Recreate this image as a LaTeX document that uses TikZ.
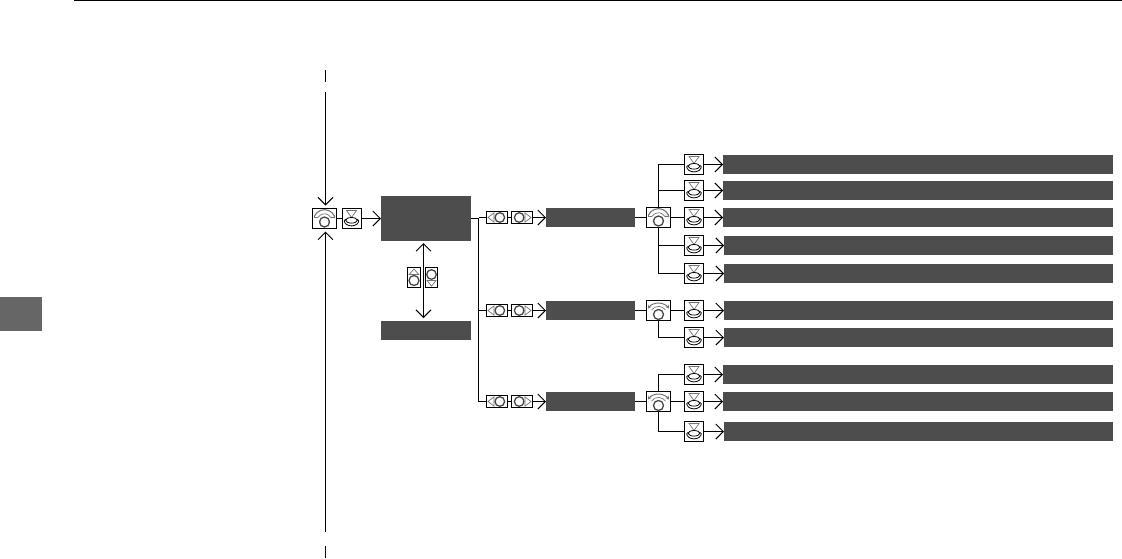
\documentclass[tikz,border=0pt]{standalone}
\usetikzlibrary{arrows.meta}
\definecolor{barfill}{HTML}{4D4D4D}
\definecolor{tabfill}{HTML}{666666}
\definecolor{glyph}{HTML}{757575}
\definecolor{ring}{HTML}{484848}
\tikzset{
  x=1pt,y=-1pt,
  conn/.style={line width=1pt,draw=black},
  arr/.style={conn,-{Straight Barb[length=7.5pt,width=15pt,line width=1pt]}},
  arrboth/.style={conn,{Straight Barb[length=7.5pt,width=15pt,line width=1pt]}-{Straight Barb[length=7.5pt,width=15pt,line width=1pt]}},
  bar/.style={fill=barfill,draw=none,inner sep=0pt,minimum width=#1,minimum height=19pt,anchor=west,outer sep=0pt},
  bar/.default=390pt,
  iconbox/.style={draw=black,line width=1pt,fill=white,inner sep=0pt,outer sep=0pt},
  pushglyph/.style={draw=glyph,line width=.7pt},
  ringglyph/.style={draw=ring,line width=1.3pt},
  press/.pic={
    \node[iconbox,minimum width=19pt,minimum height=20pt] (-box) at (0,0) {};
    \draw[pushglyph] (-5,-8) -- (5,-8) -- (0,-1) -- cycle;
    \draw[draw=black,line width=.8pt] (0,1.8) ellipse (5.8pt and 2.8pt);
    \draw[draw=black,line width=.8pt] (-7.3,2) arc[start angle=180,end angle=360,x radius=7.3pt,y radius=5.4pt];
    \draw[draw=black,line width=.7pt] (-7.3,2) -- (-5.4,.6);
    \draw[draw=black,line width=.7pt] (7.3,2) -- (5.4,.6);
  },
  rotsmall/.pic={
    \node[iconbox,minimum width=24pt,minimum height=20pt] (-box) at (0,0) {};
    \draw[ringglyph] (0,3.5) circle (5pt);
    \draw[pushglyph,line width=1.1pt] (-10,-2.5) arc[start angle=155,end angle=25,radius=11pt] -- (10,-1) -- (6.5,-1);
    \draw[pushglyph,line width=1.1pt] (-10,-2.5) -- (-10,-1) -- (-6.5,-1);
    \draw[pushglyph] (-6.5,-1) arc[start angle=150,end angle=30,radius=7.5pt];
  },
  rotwide/.pic={
    \node[iconbox,minimum width=24pt,minimum height=20pt] (-box) at (0,0) {};
    \draw[ringglyph] (0,4) circle (5pt);
    \draw[pushglyph,line width=1pt,{Stealth[length=3.5pt,width=4pt]}-{Stealth[length=3.5pt,width=4pt]}] (-10.5,-2) arc[start angle=145,end angle=35,radius=12.8pt];
    \draw[pushglyph] (-7,-.5) arc[start angle=145,end angle=35,radius=8.5pt];
  },
  leftbtn/.pic={
    \node[iconbox,minimum width=21pt,minimum height=12pt] (-box) at (0,0) {};
    \draw[pushglyph] (-3,-4.6) -- (-3,4.6) -- (-9,0) -- cycle;
    \draw[ringglyph] (2.8,0) circle (4.8pt);
  },
  rightbtn/.pic={
    \node[iconbox,minimum width=21pt,minimum height=12pt] (-box) at (0,0) {};
    \draw[pushglyph] (3,-4.6) -- (3,4.6) -- (9,0) -- cycle;
    \draw[ringglyph] (-2.8,0) circle (4.8pt);
  },
  upbtn/.pic={
    \node[iconbox,minimum width=13pt,minimum height=20pt] (-box) at (0,0) {};
    \draw[pushglyph] (-4.8,-3) -- (4.8,-3) -- (0,-8.5) -- cycle;
    \draw[ringglyph] (0,3) circle (5pt);
  },
  downbtn/.pic={
    \node[iconbox,minimum width=12pt,minimum height=20pt] (-box) at (0,0) {};
    \draw[pushglyph] (-4.5,3) -- (4.5,3) -- (0,8.5) -- cycle;
    \draw[ringglyph] (0,-3) circle (4.8pt);
  },
}
\begin{document}
\begin{tikzpicture}
\useasboundingbox (0,0) rectangle (1122,558);
% page furniture
\coordinate (ruleL) at (74,0.5);
\coordinate (ruleR) at (1122,0.5);
\draw[conn,line width=1.2pt] (ruleL) -- (ruleR);
\fill[tabfill] (0,297) rectangle (42,331);
% entry
\pic (rotA) at (324.5,218.5) {rotsmall};
\pic (pressA) at (351.5,218.5) {press};
\coordinate (t1) at (325.5,70); \coordinate (t2) at (325.5,82);
\coordinate (t3) at (325.5,92); \coordinate (b1) at (325.5,532);
\coordinate (b2) at (325.5,546); \coordinate (b3) at (325.5,558);
\draw[conn] (t1) -- (t2);
\draw[conn] (b2) -- (b3);
\draw[arr] (t3) -- (325.5,205.5);
\draw[arr] (b1) -- (325.5,231.5);
\draw[conn] (rotA-box) -- (pressA-box);
% menu boxes
\node[bar=90pt,minimum height=45pt] (menu) at (381,218.5) {};
\node[bar=90pt] (sub) at (381,330.5) {};
\draw[arr] (pressA-box) -- (menu);
\draw[arrboth] (423.5,243) coordinate (dA) -- (423.5,318) coordinate (dB);
\pic (up) at (414,277.5) {upbtn};
\pic (down) at (431.5,277.5) {downbtn};
% bus
\coordinate (busT) at (478.5,218.5);
\coordinate (busB) at (478.5,401.5);
\draw[conn] (menu.east) -- (busT) -- (busB);
% three branches
\foreach \n/\y in {1/217.5,2/310.5,3/401.5}{
  \pic (l\n) at (497,\y) {leftbtn};
  \pic (r\n) at (522,\y) {rightbtn};
  \node[bar=89pt] (m\n) at (546,\y) {};
  \draw[conn] (478.5,\y) coordinate (j\n) -- (l\n-box);
  \draw[conn] (l\n-box) -- (r\n-box);
  \draw[arr] (r\n-box) -- (m\n);
}
\pic (d1) at (658.5,217.5) {rotsmall};
\pic (d2) at (658.5,310.5) {rotwide};
\pic (d3) at (658.5,401.5) {rotwide};
\foreach \n in {1,2,3}{\draw[conn] (m\n) -- (d\n-box);}
% press rows
\foreach \k/\y/\xs in {a/164.5/723,b/190.5/723,c/217.5/723,d/245.5/724,e/273.5/724,
                       f/310.5/724,g/337.5/724,
                       h/374.5/723,i/401.5/723,j/431.5/724}{
  \pic (p\k) at (694,\y) {press};
  \pgfmathsetmacro{\barlen}{1113-\xs}
  \node[bar=\barlen pt] (bar\k) at (\xs,\y) {};
  \draw[arr] (p\k-box) -- (bar\k);
}
\draw[conn] (d1-box) -- (pc-box);
\draw[conn] (pa-box) -| (d1-box.north);
\draw[conn] (pb-box) -| (d1-box.north);
\draw[conn] (pd-box) -| (d1-box.south);
\draw[conn] (pe-box) -| (d1-box.south);
\draw[conn] (d2-box) -- (pf-box);
\draw[conn] (pg-box) -| (d2-box.south);
\draw[conn] (d3-box) -- (pi-box);
\draw[conn] (ph-box) -| (d3-box.north);
\draw[conn] (pj-box) -| (d3-box.south);
\end{tikzpicture}
\end{document}
